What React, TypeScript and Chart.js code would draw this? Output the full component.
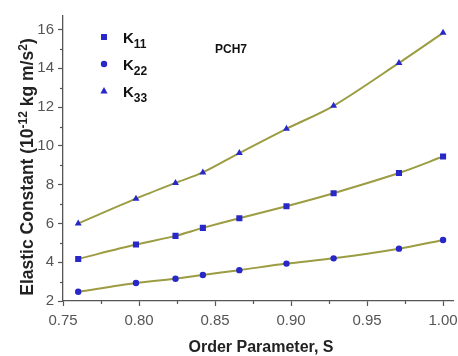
import React, { useEffect, useRef } from "react";
import { Chart, registerables } from "chart.js";

Chart.register(...registerables);

const S = [0.76, 0.798, 0.824, 0.842, 0.866, 0.897, 0.928, 0.971, 1.0];
const K11 = [4.17, 4.91, 5.36, 5.77, 6.27, 6.89, 7.56, 8.6, 9.45];
const K22 = [2.48, 2.93, 3.15, 3.34, 3.59, 3.93, 4.2, 4.7, 5.15];
const K33 = [6.0, 7.28, 8.09, 8.63, 9.63, 10.88, 12.07, 14.28, 15.83];
const SERIES_NAMES = ["11", "22", "33"];
const Y_MINOR = [3, 5, 7, 9, 11, 13, 15];
const X_MINOR = [0.775, 0.825, 0.875, 0.925, 0.975];
const LABEL = "PCH7";

const FONT = "'Liberation Sans', Arial, sans-serif";
const MARK = "#2828c8";
const FIT = "#9c9c42";
const AXIS = "#555555";

function drawMarker(ctx: CanvasRenderingContext2D, style: string, x: number, y: number) {
  ctx.save();
  ctx.fillStyle = MARK;
  ctx.beginPath();
  if (style === "rect") {
    ctx.rect(x - 3, y - 3, 6, 6);
  } else if (style === "circle") {
    ctx.arc(x, y, 3.2, 0, Math.PI * 2);
  } else {
    ctx.moveTo(x, y - 4);
    ctx.lineTo(x + 3.6, y + 2.6);
    ctx.lineTo(x - 3.6, y + 2.6);
    ctx.closePath();
  }
  ctx.fill();
  ctx.restore();
}

const decorPlugin = {
  id: "decor",
  afterDraw(chart: any) {
    const ctx: CanvasRenderingContext2D = chart.ctx;
    const xs = chart.scales.x;
    const ys = chart.scales.y;
    const area = chart.chartArea;
    ctx.save();
    // minor ticks
    ctx.strokeStyle = AXIS;
    ctx.lineWidth = 1.2;
    Y_MINOR.forEach((v) => {
      const py = Math.round(ys.getPixelForValue(v)) + 0.5;
      ctx.beginPath();
      ctx.moveTo(area.left - 3, py);
      ctx.lineTo(area.left, py);
      ctx.stroke();
    });
    X_MINOR.forEach((v) => {
      const px = Math.round(xs.getPixelForValue(v)) + 0.5;
      ctx.beginPath();
      ctx.moveTo(px, area.bottom);
      ctx.lineTo(px, area.bottom + 3);
      ctx.stroke();
    });

    // legend
    const styles = ["rect", "circle", "triangle"];
    const rows = [37, 64, 91];
    styles.forEach((st, i) => {
      drawMarker(ctx, st, 104, rows[i]);
      ctx.fillStyle = "#111";
      ctx.textBaseline = "alphabetic";
      ctx.textAlign = "left";
      ctx.font = `bold 15px ${FONT}`;
      ctx.fillText("K", 123, rows[i] + 6);
      const kw = ctx.measureText("K").width;
      ctx.font = `bold 12px ${FONT}`;
      ctx.fillText(SERIES_NAMES[i], 123 + kw, rows[i] + 11);
    });

    // PCH7
    ctx.font = `bold 12px ${FONT}`;
    ctx.fillStyle = "#111";
    ctx.fillText(LABEL, 215, 53);

    // x title
    ctx.font = `bold 16px ${FONT}`;
    ctx.textAlign = "center";
    ctx.fillStyle = "#222";
    ctx.fillText("Order Parameter, S", 261, 352);

    // y title with superscripts
    const segs: [string, number, number][] = [
      ["Elastic Constant (10", 17.5, 0],
      ["-12", 12, -6.5],
      [" kg m/s", 17.5, 0],
      ["2", 12, -6.5],
      [")", 17.5, 0],
    ];
    let total = 0;
    segs.forEach(([t, s]) => {
      ctx.font = `bold ${s}px ${FONT}`;
      total += ctx.measureText(t).width;
    });
    ctx.translate(33, 167);
    ctx.rotate(-Math.PI / 2);
    ctx.textAlign = "left";
    let cx = -total / 2;
    segs.forEach(([t, s, dy]) => {
      ctx.font = `bold ${s}px ${FONT}`;
      ctx.fillText(t, cx, dy);
      cx += ctx.measureText(t).width;
    });
    ctx.restore();
  },
};

function makeSet(name: string, vals: number[], style: string) {
  return {
    label: name,
    data: S.map((s, i) => ({ x: s, y: vals[i] })),
    showLine: true,
    borderColor: FIT,
    borderWidth: 2,
    tension: 0.3,
    pointStyle: style,
    pointRadius: style === "rect" ? 4.3 : style === "circle" ? 3.2 : 4,
    pointBackgroundColor: MARK,
    pointBorderColor: MARK,
    pointBorderWidth: 0,
  };
}

export default function App() {
  const ref = useRef<HTMLCanvasElement>(null);
  useEffect(() => {
    const canvas = ref.current!;
    const chart = new Chart(canvas, {
      type: "scatter",
      data: {
        datasets: [
          makeSet("K11", K11, "rect"),
          makeSet("K22", K22, "circle"),
          makeSet("K33", K33, "triangle"),
        ],
      },
      options: {
        animation: false,
        responsive: false,
        devicePixelRatio: 1,
        layout: { padding: { left: 8, top: 16, right: 0, bottom: 0 } },
        plugins: { legend: { display: false }, tooltip: { enabled: false } },
        scales: {
          x: {
            type: "linear",
            min: 0.75,
            max: 1.007,
            afterFit: (s: any) => {
              s.height = 55;
              s.paddingRight = 0;
              s.paddingLeft = 0;
            },
            ticks: {
              stepSize: 0.05,
              includeBounds: false,
              maxRotation: 0,
              padding: 6,
              color: "#555",
              font: { family: FONT, size: 15 },
              callback: (v: any) => Number(v).toFixed(2),
            },
            grid: { drawOnChartArea: false, drawTicks: true, tickLength: 5, color: AXIS, tickWidth: 1.2 },
            border: { display: true, color: AXIS, width: 1.3 },
          },
          y: {
            type: "linear",
            min: 2,
            max: 16.7,
            afterFit: (s: any) => {
              s.width = 55;
            },
            ticks: {
              stepSize: 2,
              includeBounds: false,
              padding: 4,
              color: "#555",
              font: { family: FONT, size: 15 },
              callback: (v: any) => String(v),
            },
            grid: { drawOnChartArea: false, drawTicks: true, tickLength: 5, color: AXIS, tickWidth: 1.2 },
            border: { display: true, color: AXIS, width: 1.3 },
          },
        },
      },
      plugins: [decorPlugin],
    });
    return () => chart.destroy();
  }, []);
  return (
    <div style={{ position: "fixed", left: 0, top: 0, width: 458, height: 356, background: "#fff" }}>
      <canvas ref={ref} width={458} height={356} style={{ width: 458, height: 356 }} />
    </div>
  );
}
